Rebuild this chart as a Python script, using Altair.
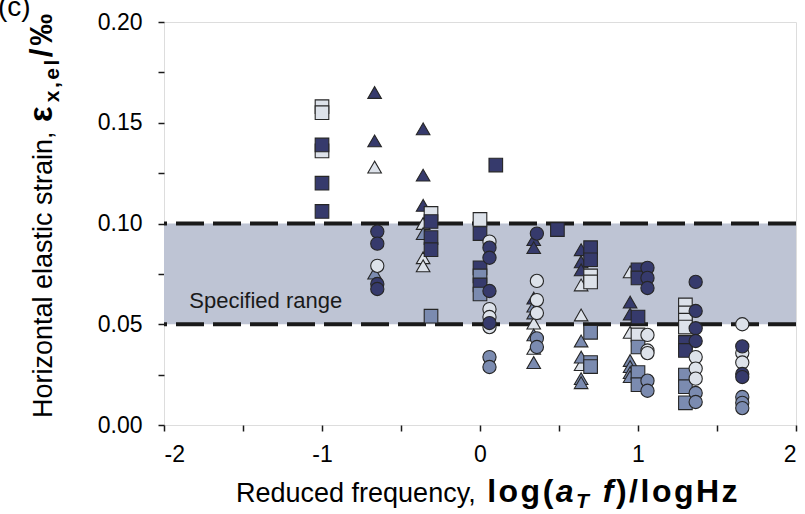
import altair as alt
import pandas as pd

# ---------------- data ----------------
# squares
sq_x = [-1.0, -1.0, -1.0, -1.0, -1.0, -1.0,
        -0.31, -0.31, -0.31, -0.31, -0.31,
        0.0, 0.0, 0.0, 0.0, 0.0, 0.0,
        0.1, 0.49,
        0.70, 0.70, 0.70, 0.70, 0.70, 0.70, 0.70,
        1.0, 1.0, 1.0, 1.0, 1.0, 1.0, 1.0,
        1.30, 1.30, 1.30, 1.30, 1.30, 1.30, 1.30, 1.30, 1.30]
sq_y = [0.158, 0.155, 0.136, 0.139, 0.120, 0.106,
        0.105, 0.101, 0.093, 0.087, 0.054,
        0.102, 0.095, 0.078, 0.074, 0.0695, 0.065,
        0.129, 0.097,
        0.074, 0.071, 0.046, 0.031, 0.029, 0.088, 0.082,
        0.0447, 0.0387, 0.026, 0.020, 0.077, 0.073, 0.0536,
        0.0596, 0.0556, 0.052, 0.0486, 0.0248, 0.019, 0.011, 0.041, 0.037]
sq_tone = ["L", "L", "L", "D", "D", "D",
           "L", "D", "D", "D", "M",
           "L", "D", "D", "M", "D", "M",
           "D", "D",
           "L", "L", "M", "M", "M", "D", "D",
           "L", "M", "M", "M", "D", "D", "D",
           "L", "L", "L", "L", "M", "M", "M", "D", "D"]

# triangles
tr_x = [-0.667, -0.667, -0.667, -0.667,
        -0.36, -0.36, -0.36, -0.36, -0.36, -0.36, -0.36,
        0.34, 0.34, 0.34, 0.34, 0.34, 0.34, 0.34, 0.34, 0.34,
        0.64, 0.64, 0.64, 0.64, 0.64, 0.64, 0.64, 0.64, 0.64, 0.64,
        0.95, 0.95, 0.95, 0.95, 0.95, 0.95, 0.95, 0.95]
tr_y = [0.128, 0.0754, 0.165, 0.141,
        0.100, 0.083, 0.079, 0.095, 0.147, 0.124, 0.109,
        0.0506, 0.038, 0.059, 0.0556, 0.0447, 0.031, 0.092, 0.088, 0.063,
        0.0695, 0.0546, 0.030, 0.0417, 0.0337, 0.023, 0.021, 0.087, 0.081, 0.077,
        0.076, 0.046, 0.032, 0.029, 0.026, 0.024, 0.061, 0.055]
tr_tone = ["L", "M", "D", "D",
           "L", "L", "L", "M", "D", "D", "D",
           "L", "L", "M", "M", "M", "M", "D", "D", "D",
           "L", "L", "L", "M", "M", "M", "M", "D", "D", "D",
           "L", "L", "M", "M", "M", "M", "D", "D"]

# circles
ci_x = [-0.65, -0.65, -0.65, -0.65, -0.65,
        0.06, 0.06, 0.06, 0.06, 0.06, 0.06, 0.06, 0.06, 0.06, 0.06,
        0.36, 0.36, 0.36, 0.36, 0.36, 0.36,
        1.06, 1.06, 1.06, 1.06, 1.06, 1.06, 1.06, 1.06,
        1.365, 1.365, 1.365, 1.365, 1.365, 1.365, 1.365, 1.365, 1.365,
        1.66, 1.66, 1.66, 1.66, 1.66, 1.66, 1.66, 1.66, 1.66]
ci_y = [0.079, 0.096, 0.090, 0.070, 0.0675,
        0.091, 0.0575, 0.0536, 0.0486, 0.0337, 0.0288, 0.088, 0.083, 0.0665, 0.0506,
        0.0715, 0.062, 0.0556, 0.043, 0.0387, 0.095,
        0.0447, 0.037, 0.0357, 0.022, 0.017, 0.078, 0.073, 0.068,
        0.0337, 0.028, 0.023, 0.0159, 0.0114, 0.071, 0.0566, 0.048, 0.0417,
        0.050, 0.0357, 0.031, 0.0139, 0.011, 0.0084, 0.039, 0.0253, 0.0238]
ci_tone = ["L", "D", "D", "D", "D",
           "L", "L", "L", "L", "M", "M", "D", "D", "D", "D",
           "L", "L", "L", "M", "M", "D",
           "L", "L", "L", "M", "M", "D", "D", "D",
           "L", "L", "L", "M", "M", "D", "D", "D", "D",
           "L", "L", "L", "M", "M", "M", "D", "D", "D"]

band_low, band_high = [0.05], [0.10]
band_label = ["Specified range"]
x_ticks = [-2, -1.5, -1, -0.5, 0, 0.5, 1, 1.5, 2]
y_ticks = [0, 0.025, 0.05, 0.075, 0.1, 0.125, 0.15, 0.175, 0.2]

# ---------------- styling ----------------
W, H = 632, 403
FONT = "Liberation Sans"
tone_scale = alt.Scale(domain=["L", "M", "D"], range=["#dde2ea", "#7b8bb0", "#363a6c"])
BLACK = "#1a1a1a"

xs = alt.Scale(domain=[-2, 2], nice=False, zero=False)
ys = alt.Scale(domain=[0, 0.2], nice=False, zero=False)

x_axis = alt.Axis(values=x_ticks, labelExpr="datum.value % 1 == 0 ? toString(datum.value) : ''",
                  tickSize=6, tickWidth=1.5, tickColor=BLACK, domain=False, grid=False,
                  labelFont=FONT, labelFontSize=23, labelColor="black", labelPadding=12,
                  title=None)
y_axis = alt.Axis(values=y_ticks,
                  labelExpr="abs(datum.value*20 - round(datum.value*20)) < 1e-6 ? format(datum.value, '.2f') : ''",
                  tickSize=6, tickWidth=1.5, tickColor=BLACK, domain=False, grid=False,
                  labelFont=FONT, labelFontSize=23, labelColor="black", labelPadding=16,
                  title=None)

band_df = pd.DataFrame({"lo": band_low, "hi": band_high})
band = alt.Chart(band_df).mark_rect(color="#bec4d4").encode(
    x=alt.value(0), x2=alt.value(W),
    y=alt.Y("lo:Q", scale=ys, axis=y_axis), y2="hi:Q")

lines_df = pd.DataFrame({"v": band_low + band_high})
rules = alt.Chart(lines_df).mark_rule(color=BLACK, strokeWidth=4, strokeDash=[28, 9]).encode(
    y=alt.Y("v:Q", scale=ys))

label_df = pd.DataFrame({"t": band_label, "x": [-1.84], "y": [0.0615]})
label = alt.Chart(label_df).mark_text(align="left", baseline="middle", font=FONT,
                                      fontSize=22, color="#1a1a1a").encode(
    x=alt.X("x:Q", scale=xs, axis=x_axis), y=alt.Y("y:Q", scale=ys), text="t:N")


def pts(xv, yv, tv, shape, size):
    df = pd.DataFrame({"x": xv, "y": yv, "tone": tv})
    return alt.Chart(df).mark_point(shape=shape, size=size, filled=True, opacity=1,
                                    stroke="#262626", strokeWidth=1.1).encode(
        x=alt.X("x:Q", scale=xs), y=alt.Y("y:Q", scale=ys),
        fill=alt.Fill("tone:N", scale=tone_scale, legend=None))


triangles = pts(tr_x, tr_y, tr_tone, "triangle-up", 185)
squares = pts(sq_x, sq_y, sq_tone, "square", 185)
circles = pts(ci_x, ci_y, ci_tone, "circle", 175)

# ---------------- axis titles built from pieces ----------------
REG = {' ': 278, 'R': 722, 'e': 556, 'd': 556, 'u': 556, 'c': 500, 'f': 278, 'r': 333, 'q': 556,
       'n': 556, 'y': 500, ',': 278, 'H': 722, 'o': 556, 'i': 222, 'z': 500, 't': 278, 'a': 556,
       'l': 222, 's': 500}
BOLD = {'l': 278, 'o': 611, 'g': 611, '(': 333, ')': 333, 'a': 556, 'T': 611, ' ': 278, 'f': 333,
        '/': 278, 'H': 722, 'z': 500, 'x': 556, ',': 278, 'e': 556, 'ε': 520, '‰': 1000}


def tw(s, table, size):
    return sum(table.get(c, 556) for c in s) / 1000 * size


one = pd.DataFrame({"k": [0]})


def piece(text, px, py, size, weight="normal", style="normal", angle=0, baseline="alphabetic"):
    return alt.Chart(one).mark_text(text=text, align="left", baseline=baseline, font=FONT,
                                    fontSize=size, fontWeight=weight, fontStyle=style,
                                    angle=angle, color="black").encode(
        x=alt.value(px), y=alt.value(py))


TS = 27
BS = 32
SUB = 21
SP = 2.5  # extra spacing between bold glyphs (wide bold face in the reference)

# x title
xt = []
x0, yb = 72, 480
cx = x0
t = "Reduced frequency, "
xt.append(piece(t, cx, yb, TS))
cx += tw(t, REG, TS) + 2
bold_parts = [("log(", "normal", BS, 0), ("a", "italic", BS, 0), ("T", "italic", SUB, 6),
              (" ", "normal", BS, 0), ("f", "italic", BS, 0), (")/logHz", "normal", BS, 0)]
for t, s, sz, dy in bold_parts:
    for ch in t:
        if ch != " ":
            xt.append(piece(ch, cx, yb + dy, sz, "bold", s))
        cx += tw(ch, BOLD, sz) + SP

# y title (rotated, reads bottom to top)
yt = []
bx, y0 = -112, 396
cy = y0
t = "Horizontal elastic strain, "
yt.append(piece(t, bx, cy, TS, angle=270))
cy -= tw(t, REG, TS) + 2
ybold = [("ε", 33, 0), ("x,el", SUB, 7), ("/‰", 32, 0)]
for t, sz, dx in ybold:
    for ch in t:
        yt.append(piece(ch, bx + dx, cy, sz, "bold", angle=270))
        cy -= tw(ch, BOLD, sz) + SP

panel = piece("(c)", -166, -6, 28)

chart = alt.layer(band, rules, label, triangles, squares, circles, *xt, *yt, panel).properties(
    width=W, height=H,
    autosize=alt.AutoSizeParams(type="none"),
    padding={"left": 164, "top": 22, "right": 9, "bottom": 89},
).configure_view(stroke=BLACK, strokeWidth=2.5).configure(background="white")

chart.save("out.html", embed_options={"renderer": "svg", "actions": False})
